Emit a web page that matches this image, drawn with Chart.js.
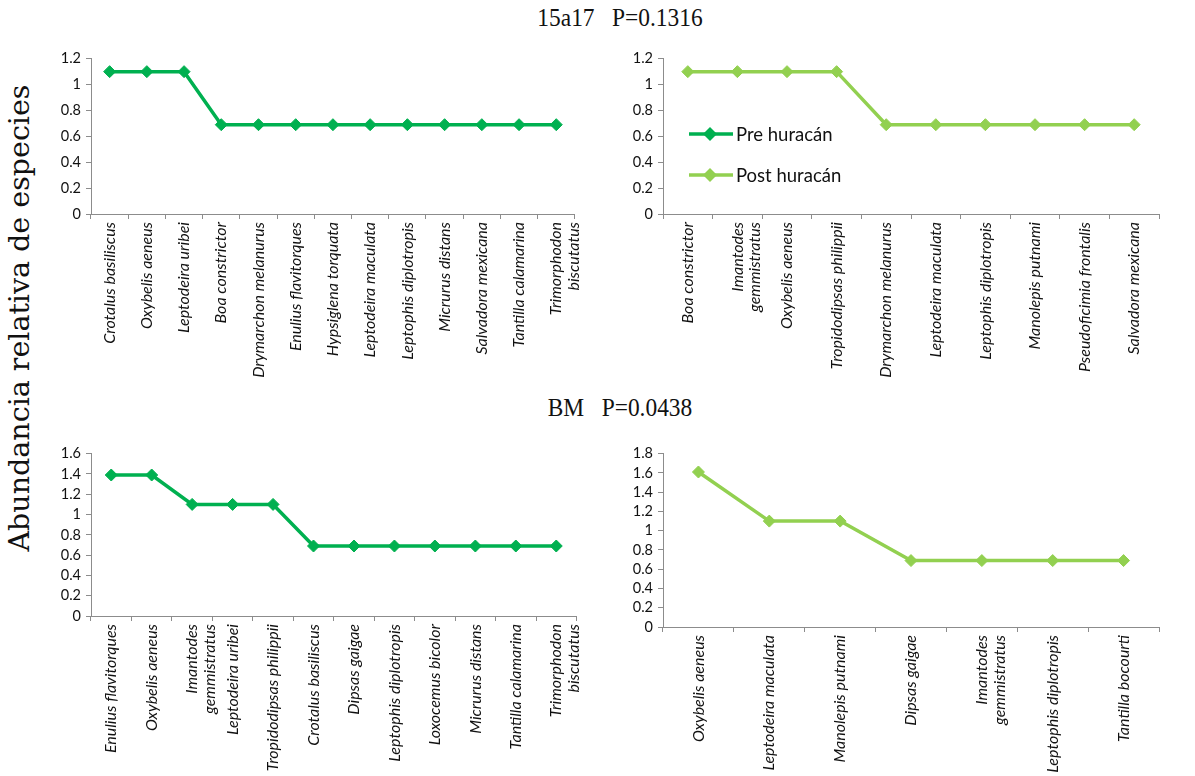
<!DOCTYPE html>
<html>
<head>
<meta charset="utf-8">
<script src="https://cdn.jsdelivr.net/npm/chart.js@4.4.0/dist/chart.umd.min.js"></script>
<style>
  body { margin: 0; background: #fff; }
  #page { position: relative; width: 1195px; height: 776px; overflow: hidden; }
  .box { position: absolute; }
  .title { position: absolute; left: 0; width: 1240px; text-align: center; white-space: pre;
           font-family: "Liberation Serif", serif; font-size: 26px; color: #111; transform: scaleX(0.9); }
  #ytitle { position: absolute; left: 19px; top: 318px; white-space: nowrap;
            font-family: "DejaVu Serif", serif; font-size: 28.5px; color: #111;
            transform: translate(-50%, -50%) rotate(-90deg); }
  .leg { position: absolute; left: 688px; font-family: Lato, "Open Sans", sans-serif; font-size: 18.5px; color: #111;
         display: flex; align-items: center; height: 24px; }
  .leg svg { margin-right: 2px; }
</style>
</head>
<body>
<div id="page">
  <div class="title" style="top:3px;">15a17   P=0.1316</div>
  <div class="title" style="top:393px;">BM   P=0.0438</div>
  <div id="ytitle">Abundancia relativa de especies</div>

  <div class="box" style="left:40px;top:45px;"><canvas id="c1" width="555" height="335"></canvas></div>
  <div class="box" style="left:612px;top:45px;"><canvas id="c2" width="562" height="335"></canvas></div>
  <div class="box" style="left:40px;top:440px;"><canvas id="c3" width="555" height="336"></canvas></div>
  <div class="box" style="left:612px;top:440px;"><canvas id="c4" width="562" height="336"></canvas></div>

  <div class="leg" style="top:122px;">
    <svg width="46" height="16"><line x1="1" y1="8" x2="45" y2="8" stroke="#00B050" stroke-width="3.5"/><polygon points="22,1 29,8 22,15 15,8" fill="#00B050"/></svg>Pre huracán
  </div>
  <div class="leg" style="top:163px;">
    <svg width="46" height="16"><line x1="1" y1="8" x2="45" y2="8" stroke="#92D050" stroke-width="3.5"/><polygon points="22,1 29,8 22,15 15,8" fill="#92D050"/></svg>Post huracán
  </div>
</div>

<script>
// colores de las series
const colorPre = '#00B050';
const colorPost = '#92D050';

// 15a17 - pre huracán
const cat15Pre = ['Crotalus basiliscus', 'Oxybelis aeneus', 'Leptodeira uribei', 'Boa constrictor',
  'Drymarchon melanurus', 'Enulius flavitorques', 'Hypsiglena torquata', 'Leptodeira maculata',
  'Leptophis diplotropis', 'Micrurus distans', 'Salvadora mexicana', 'Tantilla calamarina',
  ['Trimorphodon', 'biscutatus']];
const val15Pre = [1.1, 1.1, 1.1, 0.69, 0.69, 0.69, 0.69, 0.69, 0.69, 0.69, 0.69, 0.69, 0.69];

// 15a17 - post huracán
const cat15Post = ['Boa constrictor', ['Imantodes', 'gemmistratus'], 'Oxybelis aeneus',
  'Tropidodipsas philippii', 'Drymarchon melanurus', 'Leptodeira maculata', 'Leptophis diplotropis',
  'Manolepis putnami', 'Pseudoficimia frontalis', 'Salvadora mexicana'];
const val15Post = [1.1, 1.1, 1.1, 1.1, 0.69, 0.69, 0.69, 0.69, 0.69, 0.69];

// BM - pre huracán
const catBMPre = ['Enulius flavitorques', 'Oxybelis aeneus', ['Imantodes', 'gemmistratus'],
  'Leptodeira uribei', 'Tropidodipsas philippii', 'Crotalus basiliscus', 'Dipsas gaigae',
  'Leptophis diplotropis', 'Loxocemus bicolor', 'Micrurus distans', 'Tantilla calamarina',
  ['Trimorphodon', 'biscutatus']];
const valBMPre = [1.39, 1.39, 1.1, 1.1, 1.1, 0.69, 0.69, 0.69, 0.69, 0.69, 0.69, 0.69];

// BM - post huracán
const catBMPost = ['Oxybelis aeneus', 'Leptodeira maculata', 'Manolepis putnami', 'Dipsas gaigae',
  ['Imantodes', 'gemmistratus'], 'Leptophis diplotropis', 'Tantilla bocourti'];
const valBMPost = [1.61, 1.1, 1.1, 0.69, 0.69, 0.69, 0.69];

// marcas del eje y
const yTicks12 = [0, 0.2, 0.4, 0.6, 0.8, 1, 1.2];
const yTicks16 = [0, 0.2, 0.4, 0.6, 0.8, 1, 1.2, 1.4, 1.6];
const yTicks18 = [0, 0.2, 0.4, 0.6, 0.8, 1, 1.2, 1.4, 1.6, 1.8];

const axisGray = '#8c8c8c';
const fontFam = 'Lato, "Open Sans", sans-serif';

function makeChart(id, labels, values, color, yTicks, xHeight, padRight) {
  return new Chart(document.getElementById(id), {
    type: 'line',
    data: {
      labels: labels,
      datasets: [{
        data: values,
        borderColor: color,
        backgroundColor: color,
        borderWidth: 3.5,
        pointStyle: 'rectRot',
        pointRadius: 6,
        pointBorderWidth: 1,
        pointBackgroundColor: color,
        pointBorderColor: color,
        tension: 0,
      }]
    },
    options: {
      responsive: false,
      animation: false,
      layout: { padding: { top: 9, right: padRight, left: 0, bottom: 0 } },
      plugins: { legend: { display: false }, tooltip: { enabled: false } },
      scales: {
        x: {
          offset: true,
          grid: { offset: true, drawOnChartArea: false, drawTicks: true, tickLength: 5, color: axisGray },
          border: { color: axisGray, width: 1 },
          ticks: {
            autoSkip: false, minRotation: 90, maxRotation: 90, padding: 3,
            color: '#111', font: { family: fontFam, size: 16, style: 'italic', lineHeight: 1.1 }
          },
          afterFit: (s) => { s.height = xHeight; }
        },
        y: {
          min: yTicks[0],
          max: yTicks[yTicks.length - 1],
          afterBuildTicks: (s) => { s.ticks = yTicks.map(v => ({ value: v })); },
          grid: { drawOnChartArea: false, drawTicks: true, tickLength: 5, color: axisGray },
          border: { color: axisGray, width: 1 },
          ticks: {
            autoSkip: false, padding: 5, color: '#111', font: { family: fontFam, size: 14.5 },
            callback: (v) => String(v)
          },
          afterFit: (s) => { s.width = 51; }
        }
      }
    }
  });
}

makeChart('c1', cat15Pre, val15Pre, colorPre, yTicks12, 166, 14);
makeChart('c2', cat15Post, val15Post, colorPost, yTicks12, 166, 15);
makeChart('c3', catBMPre, valBMPre, colorPre, yTicks16, 160, 13);
makeChart('c4', catBMPost, valBMPost, colorPost, yTicks18, 149, 15);
</script>
</body>
</html>
